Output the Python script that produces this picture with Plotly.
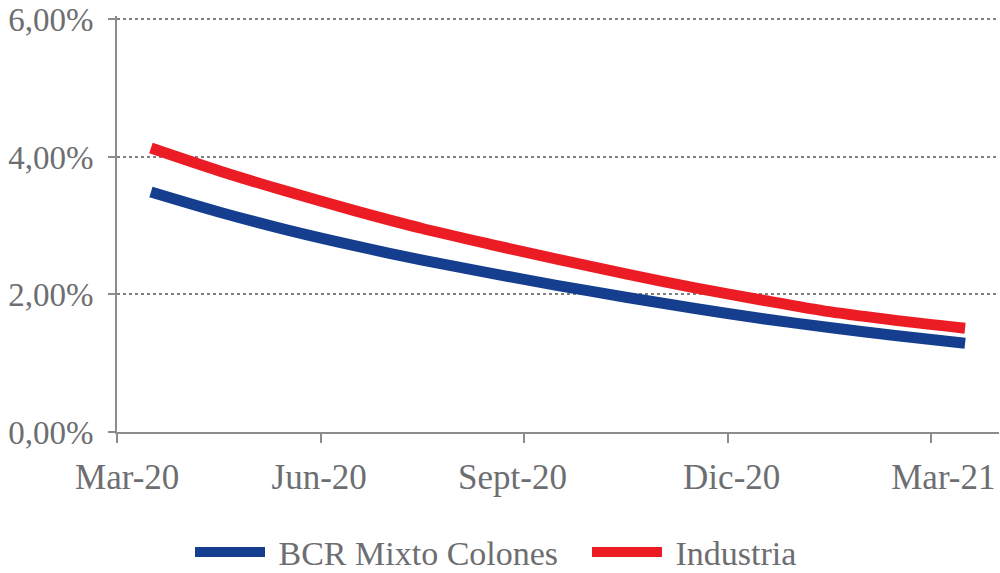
import plotly.graph_objects as go

months = ["Mar-20", "Abr-20", "May-20", "Jun-20", "Jul-20", "Ago-20", "Sept-20",
          "Oct-20", "Nov-20", "Dic-20", "Ene-21", "Feb-21", "Mar-21"]
bcr = [3.49, 3.20, 2.94, 2.71, 2.50, 2.31, 2.13, 1.96, 1.80, 1.65, 1.52, 1.40, 1.29]
industria = [4.13, 3.80, 3.50, 3.22, 2.96, 2.73, 2.51, 2.30, 2.10, 1.92, 1.75, 1.62, 1.51]
tick_labels = ["Mar-20", "Jun-20", "Sept-20", "Dic-20", "Mar-21"]
y_ticks = [0, 2, 4, 6]
y_labels = ["0,00%", "2,00%", "4,00%", "6,00%"]

x = list(range(len(months)))
label_pos = [-0.35, 2.48, 5.33, 8.56, 11.68]
boundaries = [-0.5, 2.5, 5.5, 8.5, 11.5]

FONT = "Liberation Serif"
GREY = "#6d6e71"
AX = "#8c8c8c"
NB = "\u00a0"

fig = go.Figure()
fig.add_trace(go.Scatter(x=x, y=bcr, mode="lines", name=NB + "BCR Mixto Colones",
                         line=dict(color="#153f8e", width=11, shape="spline", smoothing=0.8)))
fig.add_trace(go.Scatter(x=x, y=industria, mode="lines", name=NB + "Industria",
                         line=dict(color="#ec1c24", width=11, shape="spline", smoothing=0.8)))

fig.update_layout(
    width=1000, height=573,
    margin=dict(l=117, r=1, t=16, b=141),
    plot_bgcolor="white", paper_bgcolor="white",
    font=dict(family=FONT, size=33, color=GREY),
    showlegend=True,
    legend=dict(orientation="h", xref="container", yref="container",
                x=0.19, xanchor="left", y=0.036, yanchor="middle",
                font=dict(family=FONT, size=34, color=GREY), itemwidth=70,
                entrywidth=312, traceorder="normal"),
    xaxis=dict(range=[-0.5, 12.5], tickvals=label_pos, ticktext=tick_labels, ticks="",
               minor=dict(tickvals=boundaries, ticks="outside", ticklen=9, tickwidth=2,
                          tickcolor=AX, showgrid=False),
               showline=True, linecolor=AX, linewidth=2, tickfont=dict(size=35),
               showgrid=False, zeroline=False, ticklabelstandoff=13, automargin=False),
    yaxis=dict(range=[0, 6.05], tickvals=y_ticks, ticktext=y_labels,
               ticks="outside", ticklen=7, tickwidth=2, tickcolor=AX,
               showline=True, linecolor=AX, linewidth=2,
               showgrid=True, gridcolor="#7f7f7f", gridwidth=1.5, griddash="dot",
               zeroline=False, ticklabelstandoff=8, automargin=False,
               ticklabeloverflow="allow"),
)

fig.write_html("out.html", config={"displayModeBar": False},
               post_script="document.body.style.margin='0';")
